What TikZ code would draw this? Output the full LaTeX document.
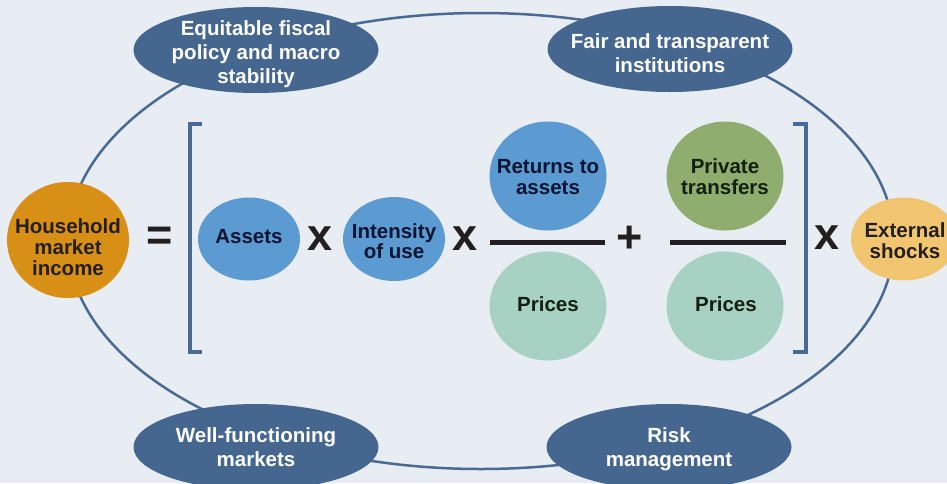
\documentclass[tikz,border=0pt]{standalone}
\usepackage{fontspec}
\setmainfont{Liberation Sans}
\usetikzlibrary{shapes.geometric}
\definecolor{bgc}{HTML}{E8ECF3}
\definecolor{navy}{HTML}{45678F}
\definecolor{ringc}{HTML}{4A6A96}
\definecolor{orangec}{HTML}{D78F15}
\definecolor{bluec}{HTML}{5B9BD1}
\definecolor{mintc}{HTML}{A6D1C3}
\definecolor{greenc}{HTML}{8EAD6E}
\definecolor{yellowc}{HTML}{F2C570}
\definecolor{inkc}{HTML}{231F20}
\definecolor{navyink}{HTML}{0B1533}
\definecolor{greenink}{HTML}{14200F}
\begin{document}
\begin{tikzpicture}[x=1pt,y=-1pt,
  bubble/.style={ellipse, inner sep=0pt, draw=none},
  lbl/.style={font=\bfseries\fontsize{20.5}{21}\selectfont, align=center, inner sep=0pt},
  lblO/.style={font=\bfseries\fontsize{20.5}{24}\selectfont, align=center, inner sep=0pt, text=white},
  op/.style={font=\bfseries\fontsize{45}{45}\selectfont, inner sep=0pt, text=inkc},
  fracbar/.style={rectangle, fill=inkc, inner sep=0pt, minimum height=5pt},
  brk/.style={draw=ringc, line width=3.5pt, miter limit=10}
]
\fill[bgc] (0,0) rectangle (947,483);
\useasboundingbox (0,0) rectangle (947,483);
\clip (0,0) rectangle (947,483);

% big ring
\draw[ringc, line width=2.5pt] (481,241) ellipse [x radius=413pt, y radius=228pt];

% outer dark nodes
\node[bubble, fill=navy, minimum width=245pt, minimum height=86pt] (eq) at (256,50) {};
\node[lblO] (eqT) at (256,54) {Equitable fiscal\\policy and macro\\stability};
\node[bubble, fill=navy, minimum width=245pt, minimum height=86pt] (fair) at (670,49) {};
\node[lblO] (fairT) at (670,53) {Fair and transparent\\institutions};
\node[bubble, fill=navy, minimum width=245pt, minimum height=86pt] (well) at (256,447) {};
\node[lblO] (wellT) at (256,447.5) {Well-functioning\\markets};
\node[bubble, fill=navy, minimum width=245pt, minimum height=86pt] (risk) at (669,447) {};
\node[lblO] (riskT) at (669,449.5) {Risk\\management};

% household
\node[bubble, fill=orangec, minimum width=122pt, minimum height=116pt] (hh) at (68,240) {};
\node[lbl, text=inkc] (hhT) at (68,247) {Household\\market\\income};

\node[op] (eqs) at (160,239) {=};

% brackets
\coordinate (lbA) at (202,124);
\coordinate (lbB) at (190,124);
\coordinate (lbC) at (190,352);
\coordinate (lbD) at (202,352);
\draw[brk] (lbA) -- (lbB) -- (lbC) -- (lbD);
\coordinate (rbA) at (793,124);
\coordinate (rbB) at (806,124);
\coordinate (rbC) at (806,352);
\coordinate (rbD) at (793,352);
\draw[brk] (rbA) -- (rbB) -- (rbC) -- (rbD);

% assets
\node[bubble, fill=bluec, minimum width=102pt, minimum height=83pt] (assets) at (249,239) {};
\node[lbl, text=navyink] (assetsT) at (249,237) {Assets};
\node[op] (x1) at (320.5,238.5) {x};
\node[bubble, fill=bluec, minimum width=102pt, minimum height=84pt] (intens) at (394,239) {};
\node[lbl, text=navyink, font=\bfseries\fontsize{20.5}{20}\selectfont] (intensT) at (394,241) {Intensity\\of use};
\node[op] (x2) at (465.5,238.5) {x};

% fraction 1
\node[bubble, fill=bluec, minimum width=117pt, minimum height=109pt] (ret) at (548,176) {};
\node[lbl, text=navyink] (retT) at (548,177) {Returns to\\assets};
\node[fracbar, minimum width=115pt] (bar1) at (547.5,242) {};
\node[bubble, fill=mintc, minimum width=117pt, minimum height=109pt] (pr1) at (548,306) {};
\node[lbl, text=greenink] (pr1T) at (548,304.5) {Prices};

\node[op] (plus) at (629.5,239) {+};

% fraction 2
\node[bubble, fill=greenc, minimum width=117pt, minimum height=109pt] (priv) at (725,176) {};
\node[lbl, text=greenink] (privT) at (725,177) {Private\\transfers};
\node[fracbar, minimum width=116pt] (bar2) at (728,242) {};
\node[bubble, fill=mintc, minimum width=117pt, minimum height=109pt] (pr2) at (725,306) {};
\node[lbl, text=greenink] (pr2T) at (726,304.5) {Prices};

\node[op] (x3) at (827,238) {x};

% external shocks
\node[bubble, fill=yellowc, minimum width=106pt, minimum height=83pt] (ext) at (904,239) {};
\node[lbl, text=inkc] (extT) at (905,240.5) {External\\shocks};
\end{tikzpicture}
\end{document}
